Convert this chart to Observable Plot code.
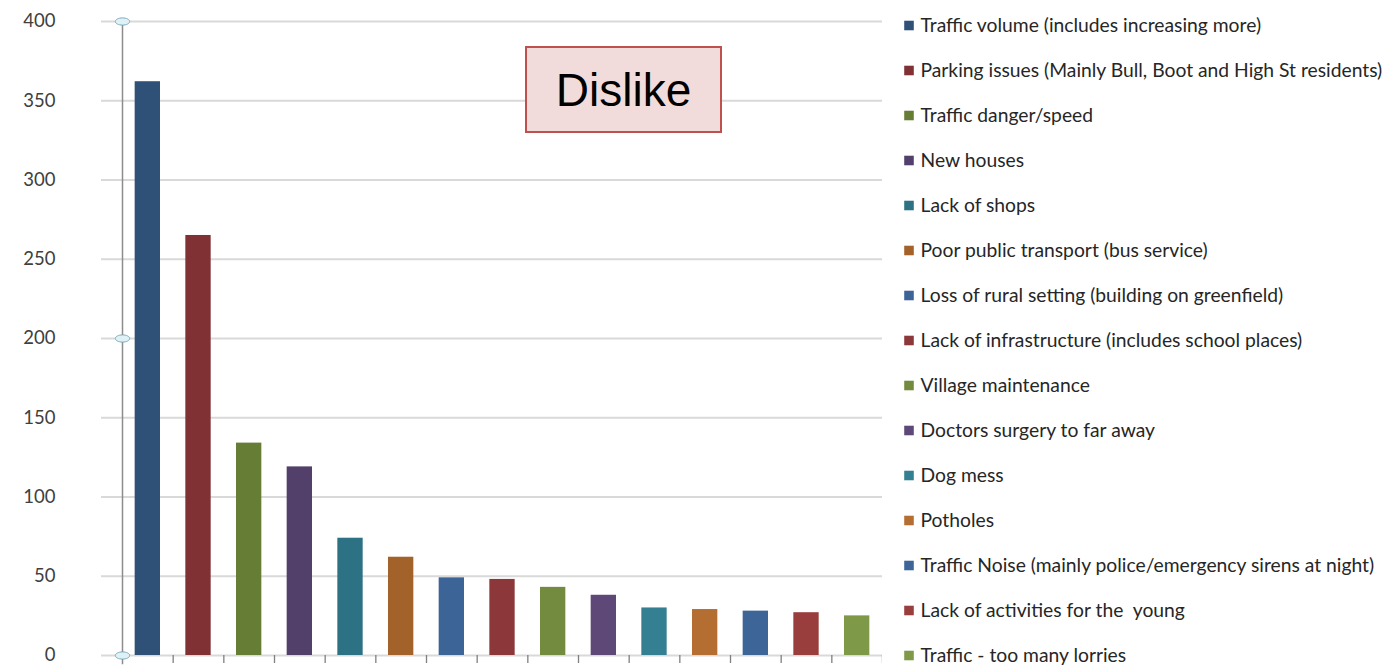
<!DOCTYPE html>
<html>
<head>
<meta charset="utf-8">
<script src="https://cdn.jsdelivr.net/npm/d3@7"></script>
<script src="https://cdn.jsdelivr.net/npm/@observablehq/plot@0.6"></script>
<style>
  html, body { margin: 0; padding: 0; background: #fff; }
  #wrap { display: flex; flex-direction: row; width: 1399px; height: 666px; position: relative; overflow: hidden; }
  #title { position: absolute; left: 525px; top: 46px; width: 197px; height: 87px;
    background: #F2DCDB; border: 2px solid #C0504D; box-sizing: border-box;
    font-family: "Liberation Sans", Arial, sans-serif; font-size: 46px; color: #000;
    display: flex; align-items: center; justify-content: center; }
</style>
</head>
<body>
<div id="wrap">
  <div id="chart"></div>
  <div id="legend"></div>
  <div id="title">Dislike</div>
</div>
<script>
const categories = [
  "Traffic volume (includes increasing more)",
  "Parking issues (Mainly Bull, Boot and High St residents)",
  "Traffic danger/speed",
  "New houses",
  "Lack of shops",
  "Poor public transport (bus service)",
  "Loss of rural setting (building on greenfield)",
  "Lack of infrastructure (includes school places)",
  "Village maintenance",
  "Doctors surgery to far away",
  "Dog mess",
  "Potholes",
  "Traffic Noise (mainly police/emergency sirens at night)",
  "Lack of activities for the  young",
  "Traffic - too many lorries"
];
const values = [362, 265, 134, 119, 74, 62, 49, 48, 43, 38, 30, 29, 28, 27, 25];
const colors = ["#2F5077","#7F3133","#667D36","#523F6A","#2D7185","#A3622A","#3C6496","#8C383A",
                "#728B3F","#5E4878","#357F92","#B56E31","#3D6598","#9A3D3D","#7E9948"];
const yTicks = [0, 50, 100, 150, 200, 250, 300, 350, 400];
const handleTicks = [0, 200, 400];

const data = categories.map((c, i) => ({category: c, value: values[i], color: colors[i]}));

// ellipse symbol for the axis selection handles
const ellipse = {
  draw(context, size) {
    const rx = Math.sqrt(size / Math.PI) * 1.6, ry = rx / 2, k = 0.5523;
    context.moveTo(rx, 0);
    context.bezierCurveTo(rx, ry * k, rx * k, ry, 0, ry);
    context.bezierCurveTo(-rx * k, ry, -rx, ry * k, -rx, 0);
    context.bezierCurveTo(-rx, -ry * k, -rx * k, -ry, 0, -ry);
    context.bezierCurveTo(rx * k, -ry, rx, -ry * k, rx, 0);
    context.closePath();
  }
};

const chart = Plot.plot({
  width: 882,
  height: 666,
  marginLeft: 122,
  marginRight: 0,
  marginTop: 21,
  marginBottom: 11,
  style: {fontFamily: "Lato, sans-serif", fontSize: "18px", color: "#404040", background: "#fff"},
  x: {domain: categories, paddingInner: 0.5, paddingOuter: 0.25, round: false, axis: null, label: null},
  y: {domain: [0, 400], axis: null, label: null},
  marks: [
    Plot.ruleY(yTicks, {stroke: "#D9D9D9", strokeWidth: 2, insetLeft: -21}),
    Plot.axisY(yTicks, {tickSize: 0, tickPadding: 67, fill: "#404040", fontSize: 18.5, textAnchor: "end", label: null}),
    Plot.barY(data, {x: "category", y: "value", fill: "color"}),
    Plot.frame({anchor: "left", stroke: "#8C8C8C", strokeWidth: 1.5, insetBottom: -8}),
    Plot.axisX(categories, {tickSize: 8, text: null, label: null, stroke: "#7F7F7F", strokeWidth: 1.3, dx: 760 / 30}),
    Plot.dot(handleTicks, {y: d => d, frameAnchor: "left", symbol: ellipse, r: 4.5, fill: "#DDF1F6", stroke: "#7FAAB9", strokeWidth: 1})
  ]
});
document.getElementById("chart").appendChild(chart);

const legend = Plot.plot({
  width: 517,
  height: 666,
  marginLeft: 21,
  marginRight: 0,
  marginTop: 25,
  marginBottom: 11,
  style: {fontFamily: "Lato, sans-serif", fontSize: "19px", color: "#262626", background: "#fff"},
  x: {axis: null},
  y: {type: "point", domain: categories, range: [25, 655], padding: 0, axis: null, label: null},
  marks: [
    Plot.dot(data, {y: "category", frameAnchor: "left", dx: 5.5, symbol: "square", r: 5.4, fill: "color"}),
    Plot.text(data, {y: "category", text: "category", frameAnchor: "left", dx: 17, textAnchor: "start", fill: "#262626", fontSize: 19.3})
  ]
});
document.getElementById("legend").appendChild(legend);
</script>
</body>
</html>
